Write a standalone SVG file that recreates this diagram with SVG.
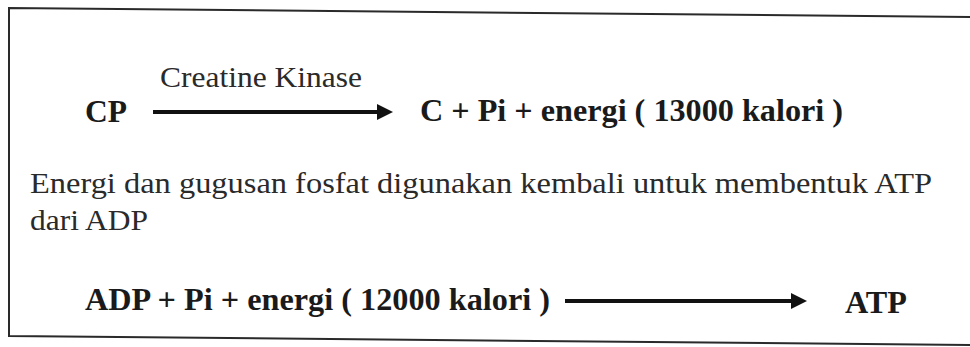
<svg xmlns="http://www.w3.org/2000/svg" width="970" height="347" viewBox="0 0 970 347">
  <style>
    .frame { fill: none; stroke: #2a2a2a; stroke-width: 2; }
    .bold { font-family: "Liberation Serif", "DejaVu Serif", serif; font-weight: bold; font-size: 31px; fill: #1a1a1a; }
    .plain { font-family: "Liberation Serif", "DejaVu Serif", serif; font-size: 30px; fill: #2a2a2a; }
    .arrow { stroke: #111; stroke-width: 4; fill: none; }
  </style>
  <defs>
    <marker id="head" markerUnits="userSpaceOnUse" markerWidth="18" markerHeight="18" refX="4" refY="8" orient="auto">
      <path d="M0,0 L16,8 L0,16 z" fill="#111"/>
    </marker>
  </defs>
  <rect width="970" height="347" fill="#ffffff"/>
  <path class="frame" d="M970,17 L9,8 L9,336 L970,345"/>

  <g id="connectors">
    <line class="arrow" x1="153" y1="112" x2="381" y2="112" marker-end="url(#head)"/>
    <line class="arrow" x1="565" y1="301" x2="795" y2="301" marker-end="url(#head)"/>
  </g>

  <g id="enzyme">
    <text class="plain" x="160" y="87" font-size="29" textLength="202" lengthAdjust="spacingAndGlyphs">Creatine Kinase</text>
  </g>
  <g id="cp">
    <text class="bold" x="85" y="122" textLength="42" lengthAdjust="spacingAndGlyphs">CP</text>
  </g>
  <g id="products1">
    <text class="bold" x="420" y="121" textLength="423" lengthAdjust="spacingAndGlyphs">C + Pi + energi ( 13000 kalori )</text>
  </g>
  <g id="note">
    <text class="plain" x="30" y="193" textLength="902" lengthAdjust="spacingAndGlyphs">Energi dan gugusan fosfat digunakan kembali untuk membentuk ATP</text>
    <text class="plain" x="30" y="230" textLength="118" lengthAdjust="spacingAndGlyphs">dari ADP</text>
  </g>
  <g id="reactants2">
    <text class="bold" x="85" y="310" textLength="465" lengthAdjust="spacingAndGlyphs">ADP + Pi + energi ( 12000 kalori )</text>
  </g>
  <g id="atp">
    <text class="bold" x="845" y="313" textLength="62" lengthAdjust="spacingAndGlyphs">ATP</text>
  </g>
</svg>
